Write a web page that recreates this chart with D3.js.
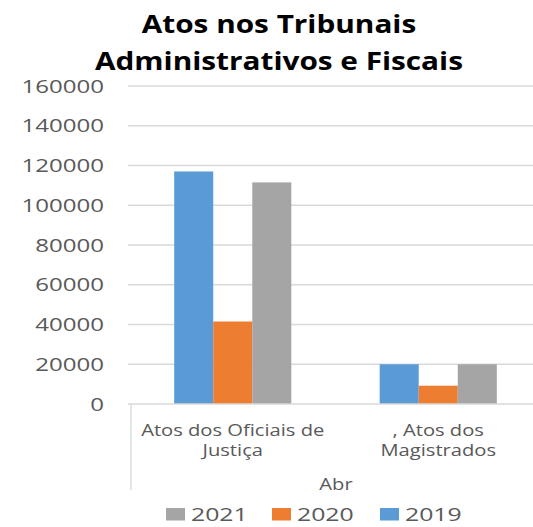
<!DOCTYPE html>
<html><head><meta charset="utf-8">
<script src="https://cdn.jsdelivr.net/npm/d3@7"></script>
<style>body{margin:0;background:#fff;}svg{display:block;}</style>
</head><body>
<svg id="c" width="533" height="527"></svg>
<script>
const titleLines = ["Atos nos Tribunais", "Administrativos e Fiscais"];
const categories = [["Atos dos Oficiais de", "Justiça"], [", Atos dos", "Magistrados"]];
const groupLabel = "Abr";
const series = ["2019", "2020", "2021"];
const values2019 = [117000, 20000];
const values2020 = [41500, 9200];
const values2021 = [111500, 20000];
const yTicks = [0, 20000, 40000, 60000, 80000, 100000, 120000, 140000, 160000];
const legendOrder = ["2021", "2020", "2019"];
const colors = {"2019": "#5B9BD5", "2020": "#ED7D31", "2021": "#A5A5A5"};

const valuesBySeries = {"2019": values2019, "2020": values2020, "2021": values2021};
const svg = d3.select("#c");
const font = "'Open Sans', sans-serif";

function stretch(sel, k) {
  sel.each(function() {
    const w = this.getComputedTextLength();
    d3.select(this).attr("textLength", w * k).attr("lengthAdjust", "spacingAndGlyphs");
  });
}

const y = d3.scaleLinear().domain([0, 160000]).range([404, 86]);
const catIdx = categories.map((c, i) => i);
const x0 = d3.scaleBand().domain(catIdx).range([130, 541]).paddingInner(0.43).paddingOuter(0.215);
const x1 = d3.scaleBand().domain(series).range([0, x0.bandwidth()]);

// gridlines
svg.append("g").selectAll("line").data(yTicks.filter(t => t > 0)).join("line")
  .attr("x1", 128).attr("x2", 533).attr("y1", d => y(d)).attr("y2", d => y(d))
  .attr("stroke", "#d9d9d9").attr("stroke-width", 1.3);

// y tick labels
const yl = svg.append("g").selectAll("text").data(yTicks).join("text")
  .attr("x", 104).attr("y", d => y(d) + 6.5).attr("text-anchor", "end")
  .attr("font-family", font).attr("font-size", 18.5).attr("fill", "#595959")
  .text(d => d3.format("d")(d));
stretch(yl, 1.3);

// bars
series.forEach(s => {
  svg.append("g").selectAll("rect").data(valuesBySeries[s]).join("rect")
    .attr("x", (d, i) => x0(i) + x1(s)).attr("width", x1.bandwidth())
    .attr("y", d => y(d)).attr("height", d => y(0) - y(d))
    .attr("fill", colors[s]);
});

// x axis line and left divider
svg.append("line").attr("x1", 128).attr("x2", 533).attr("y1", y(0)).attr("y2", y(0))
  .attr("stroke", "#d9d9d9").attr("stroke-width", 1.3);
svg.append("line").attr("x1", 131).attr("x2", 131).attr("y1", y(0)).attr("y2", 490)
  .attr("stroke", "#d9d9d9").attr("stroke-width", 1.3);

// category labels
categories.forEach((lines, i) => {
  const cx = x0(i) + x0.bandwidth() / 2;
  const t = svg.append("g").selectAll("text").data(lines).join("text")
    .attr("x", cx).attr("y", (d, j) => 436 + j * 20).attr("text-anchor", "middle")
    .attr("font-family", font).attr("font-size", 15.5).attr("fill", "#595959")
    .text(d => d);
  stretch(t, 1.3);
});
const gl = svg.append("text").attr("x", 336).attr("y", 490).attr("text-anchor", "middle")
  .attr("font-family", font).attr("font-size", 15.5).attr("fill", "#595959").text(groupLabel);
stretch(gl, 1.3);

// title
const tt = svg.append("g").selectAll("text").data(titleLines).join("text")
  .attr("x", 279).attr("y", (d, i) => 33 + i * 37).attr("text-anchor", "middle")
  .attr("font-family", font).attr("font-weight", "bold").attr("font-size", 25).attr("fill", "#000")
  .text(d => d);
stretch(tt, 1.19);

// legend
const legX = {"2021": 166, "2020": 272, "2019": 380};
const lg = svg.append("g").selectAll("g").data(legendOrder).join("g")
  .attr("transform", d => `translate(${legX[d]},507)`);
lg.append("rect").attr("x", 0).attr("y", 1).attr("width", 19).attr("height", 12.5).attr("fill", d => colors[d]);
const lt = lg.append("text").attr("x", 25).attr("y", 13.5)
  .attr("font-family", font).attr("font-size", 18.5).attr("fill", "#595959").text(d => d);
stretch(lt, 1.34);
</script>
</body></html>
